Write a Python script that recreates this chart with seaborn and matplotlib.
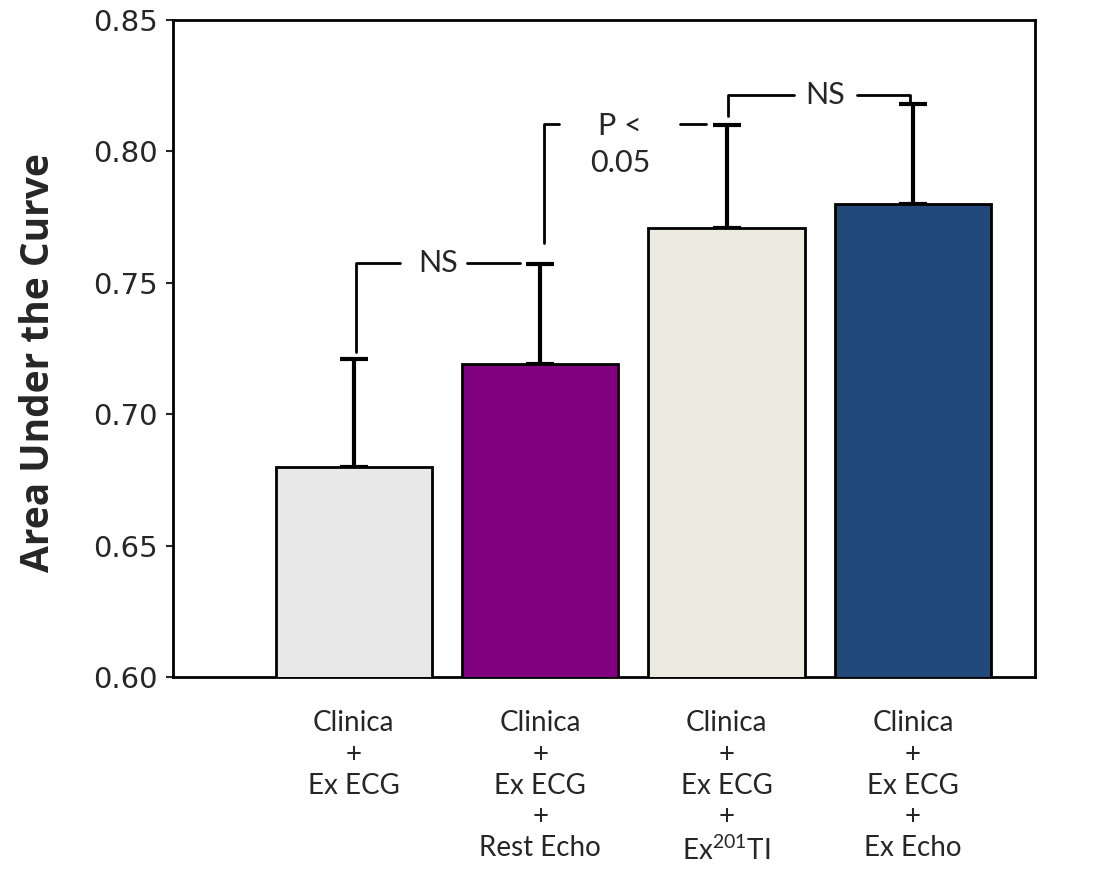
import matplotlib
matplotlib.use("Agg")
import matplotlib.pyplot as plt
import seaborn as sns
import pandas as pd

categories = ["Clinica\n+\nEx ECG",
              "Clinica\n+\nEx ECG\n+\nRest Echo",
              "Clinica\n+\nEx ECG\n+\nEx$^{201}$TI",
              "Clinica\n+\nEx ECG\n+\nEx Echo"]
auc = [0.680, 0.719, 0.771, 0.780]
upper_err = [0.041, 0.038, 0.039, 0.038]
colors = ["#E8E8E8", "#800080", "#ECEADF", "#214A7B"]
yticks = [0.60, 0.65, 0.70, 0.75, 0.80, 0.85]

sns.set_style("white")
plt.rcParams["font.family"] = ["Lato", "DejaVu Sans"]
plt.rcParams["mathtext.default"] = "regular"

fig = plt.figure(figsize=(10.95, 8.69), dpi=100)
ax = fig.add_axes([0.158, 0.221, 0.787, 0.756])

df = pd.DataFrame({"cat": categories, "auc": auc})
sns.barplot(data=df, x="cat", y="auc", hue="cat", palette=colors, legend=False,
            saturation=1, width=0.84, edgecolor="black", linewidth=2, ax=ax)
for p in ax.patches:
    p.set_zorder(3)

ax.errorbar(range(len(auc)), auc, yerr=[[0]*len(auc), upper_err], fmt="none",
            ecolor="black", elinewidth=3, capsize=10, capthick=3, zorder=2)

ax.set_ylim(0.60, 0.85)
ax.set_xlim(-0.97, 3.654)
ax.set_yticks(yticks)
ax.set_yticklabels([f"{v:.2f}" for v in yticks], family="DejaVu Sans", fontsize=21)
ax.tick_params(axis="y", direction="out", length=5, width=1.5, left=True, pad=6)
ax.tick_params(axis="x", length=0, labelsize=20, pad=24)
for lab in ax.get_xticklabels():
    lab.set_linespacing(1.25)
ax.set_xlabel("")
ax.set_ylabel("Area Under the Curve", fontsize=28, fontweight="bold",
              family=["Open Sans", "DejaVu Sans"])
ax.yaxis.set_label_coords(-0.133, 0.478)
for s in ax.spines.values():
    s.set_visible(True)
    s.set_linewidth(2)
    s.set_color("black")

lw = 2
fs = 22
# NS bracket between bar 0 and 1
y1 = 0.7575
ax.plot([0.01, 0.01, 0.25], [0.7235, y1, y1], color="black", lw=lw)
ax.plot([0.61, 0.89], [y1, y1], color="black", lw=lw)
ax.text(0.45, y1, "NS", ha="center", va="center", fontsize=fs)
# P < 0.05 bracket between bar 1 and 2
y2 = 0.8105
ax.plot([1.02, 1.02, 1.10], [0.765, y2, y2], color="black", lw=lw)
ax.plot([1.75, 1.89], [y2, y2], color="black", lw=lw)
ax.text(1.43, y2 - 0.0008, "P <", ha="center", va="center", fontsize=fs)
ax.text(1.43, 0.7955, "0.05", ha="center", va="center", fontsize=fs)
# NS bracket between bar 2 and 3
y3 = 0.8215
ax.plot([2.01, 2.01, 2.36], [0.8135, y3, y3], color="black", lw=lw)
ax.plot([2.70, 2.985, 2.985], [y3, y3, 0.8185], color="black", lw=lw)
ax.text(2.53, y3, "NS", ha="center", va="center", fontsize=fs)

fig.savefig("out.png", dpi=100)
